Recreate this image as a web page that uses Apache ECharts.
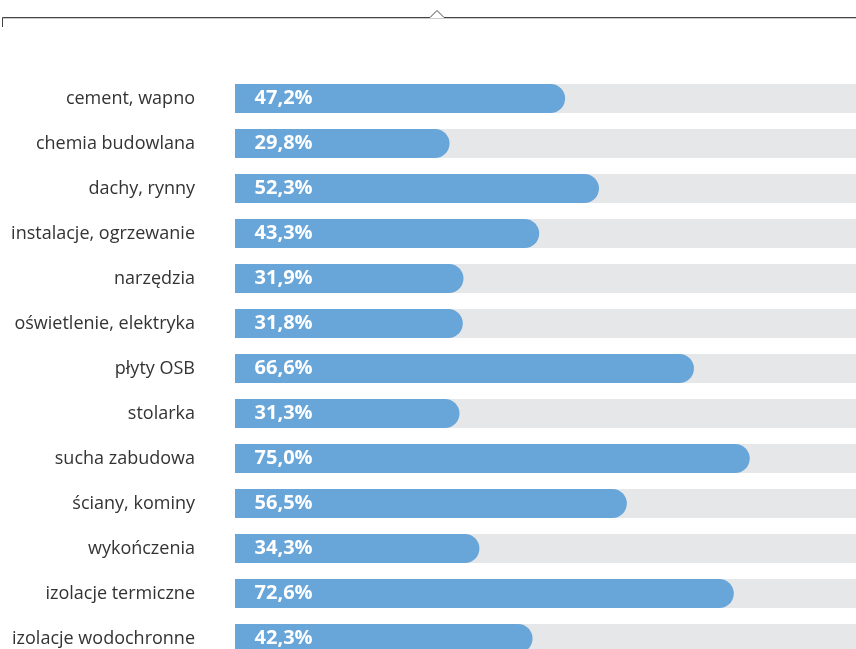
<!DOCTYPE html>
<html><head><meta charset="utf-8">
<script src="https://cdn.jsdelivr.net/npm/echarts@6/dist/echarts.min.js"></script>
<style>html,body{margin:0;padding:0;background:#fff;overflow:hidden}#c{width:856px;height:680px}</style>
</head><body><div id="c"></div>
<script>
const categories = ["cement, wapno","chemia budowlana","dachy, rynny","instalacje, ogrzewanie","narzędzia","oświetlenie, elektryka","płyty OSB","stolarka","sucha zabudowa","ściany, kominy","wykończenia","izolacje termiczne","izolacje wodochronne"];
const values = [47.2,29.8,52.3,43.3,31.9,31.8,66.6,31.3,75.0,56.5,34.3,72.6,42.3];

const chart = echarts.init(document.getElementById('c'));
const lead = 2.5;
const blue = '#68a5d9';
chart.setOption({
  animation:false,
  grid:{left:235,right:0,top:76,height:585},
  xAxis:{type:'value',min:0,max:93.5,show:false},
  yAxis:{type:'category',data:categories,inverse:true,
    axisLine:{show:false},axisTick:{show:false},
    axisLabel:{margin:40,fontSize:18,color:'#333',fontFamily:'Open Sans'}},
  graphic:[
    {type:'polyline',shape:{points:[[2.5,27],[2.5,17.5],[430,17.5],[437,10.5],[444,17.5],[856,17.5]]},
     style:{stroke:'#444',lineWidth:1,fill:null}},
    {type:'line',shape:{x1:3,y1:18.5,x2:856,y2:18.5},style:{stroke:'#ccc',lineWidth:1}}
  ],
  series:[
    {type:'bar',barWidth:29,barGap:'-100%',data:values.map(()=>lead*3),
     itemStyle:{color:blue},showBackground:true,
     backgroundStyle:{color:'#e6e7e9'},silent:true,z:1},
    {type:'bar',stack:'s',barWidth:29,data:values.map(()=>lead),
     itemStyle:{color:blue},silent:true,z:2},
    {type:'bar',stack:'s',barWidth:29,data:values,z:3,
     itemStyle:{color:blue,borderRadius:[0,14.5,14.5,0]},
     label:{show:true,position:'insideLeft',distance:3,color:'#fff',fontSize:20,fontWeight:'bold',fontFamily:'Open Sans',
       formatter:p=>p.value.toFixed(1).replace('.',',')+'%'}}
  ]
});
</script></body></html>
